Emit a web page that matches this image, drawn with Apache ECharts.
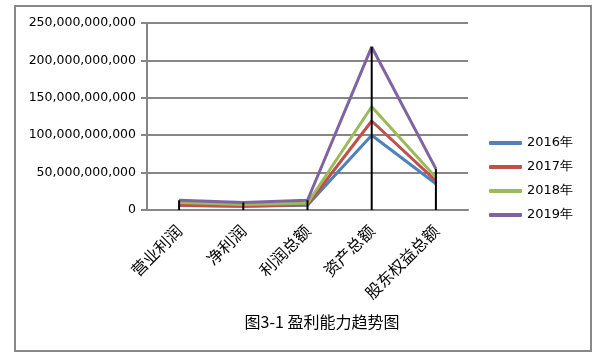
<!DOCTYPE html>
<html>
<head>
<meta charset="utf-8">
<script src="https://cdn.jsdelivr.net/npm/echarts@6/dist/echarts.min.js"></script>
<style>
html,body{margin:0;padding:0;background:#fff;}
#c{width:616px;height:359px;}
</style>
</head>
<body>
<div id="c"></div>
<script>
var categories = ['营业利润', '净利润', '利润总额', '资产总额', '股东权益总额'];
var seriesNames = ['2016年', '2017年', '2018年', '2019年'];
var v2016 = [6e9, 5e9, 6.5e9, 100e9, 35e9];
var v2017 = [6.5e9, 5e9, 7e9, 119e9, 39e9];
var v2018 = [10e9, 7.5e9, 9e9, 138e9, 43.5e9];
var v2019 = [13e9, 10e9, 13e9, 218e9, 55e9];
var yTicks = [0, 50e9, 100e9, 150e9, 200e9, 250e9];
var colors = ['#4F81BD', '#C0504D', '#9BBB59', '#8064A2'];
var titleText = '图3-1 盈利能力趋势图';

var allSeries = [v2016, v2017, v2018, v2019];
var dropLine = categories.map(function (c, i) {
  return Math.max(v2016[i], v2017[i], v2018[i], v2019[i]);
});

function fmt(v) {
  return String(Math.round(v)).replace(/\B(?=(\d{3})+(?!\d))/g, ',');
}

var chart = echarts.init(document.getElementById('c'));
var series = allSeries.map(function (d, i) {
  return {
    name: seriesNames[i],
    type: 'line',
    data: d,
    symbol: 'none',
    z: 2,
    lineStyle: { color: colors[i], width: 3 },
    itemStyle: { color: colors[i] }
  };
});
series.push({
  name: 'drop',
  type: 'bar',
  data: dropLine,
  barWidth: 2,
  z: 3,
  silent: true,
  itemStyle: { color: '#000' }
});

chart.setOption({
  animation: false,
  backgroundColor: '#fff',
  graphic: [{
    type: 'rect',
    shape: { x: 15, y: 6, width: 576, height: 345 },
    style: { fill: 'none', stroke: '#888', lineWidth: 2 },
    z: 100
  }],
  title: {
    text: titleText,
    left: 317,
    textAlign: 'center',
    top: 309,
    textStyle: { fontFamily: 'Noto Sans CJK SC', fontSize: 16, fontWeight: 'normal', color: '#000' }
  },
  legend: {
    data: seriesNames,
    orient: 'vertical',
    left: 489,
    top: 135,
    padding: 0,
    itemWidth: 33,
    itemHeight: 4,
    itemGap: 8,
    icon: 'roundRect',
    textStyle: { fontFamily: 'DejaVu Sans', fontSize: 13, color: '#000', lineHeight: 16 }
  },
  grid: { left: 147, top: 23, right: 148, bottom: 149, containLabel: false },
  xAxis: {
    type: 'category',
    data: categories,
    boundaryGap: true,
    axisLine: { lineStyle: { color: '#868686', width: 2 } },
    axisTick: { show: false },
    axisLabel: {
      rotate: 45,
      margin: 18,
      interval: 0,
      fontFamily: 'Noto Sans CJK SC',
      fontSize: 16,
      color: '#000'
    }
  },
  yAxis: {
    type: 'value',
    min: yTicks[0],
    max: yTicks[yTicks.length - 1],
    interval: yTicks[1] - yTicks[0],
    axisLine: { show: true, lineStyle: { color: '#868686', width: 2 } },
    axisTick: { show: true, length: 6, lineStyle: { color: '#868686', width: 2 } },
    splitLine: { lineStyle: { color: '#868686', width: 2 } },
    axisLabel: {
      margin: 11,
      fontFamily: 'DejaVu Sans',
      fontSize: 12.5,
      color: '#000',
      formatter: fmt
    }
  },
  series: series
});
</script>
</body>
</html>
